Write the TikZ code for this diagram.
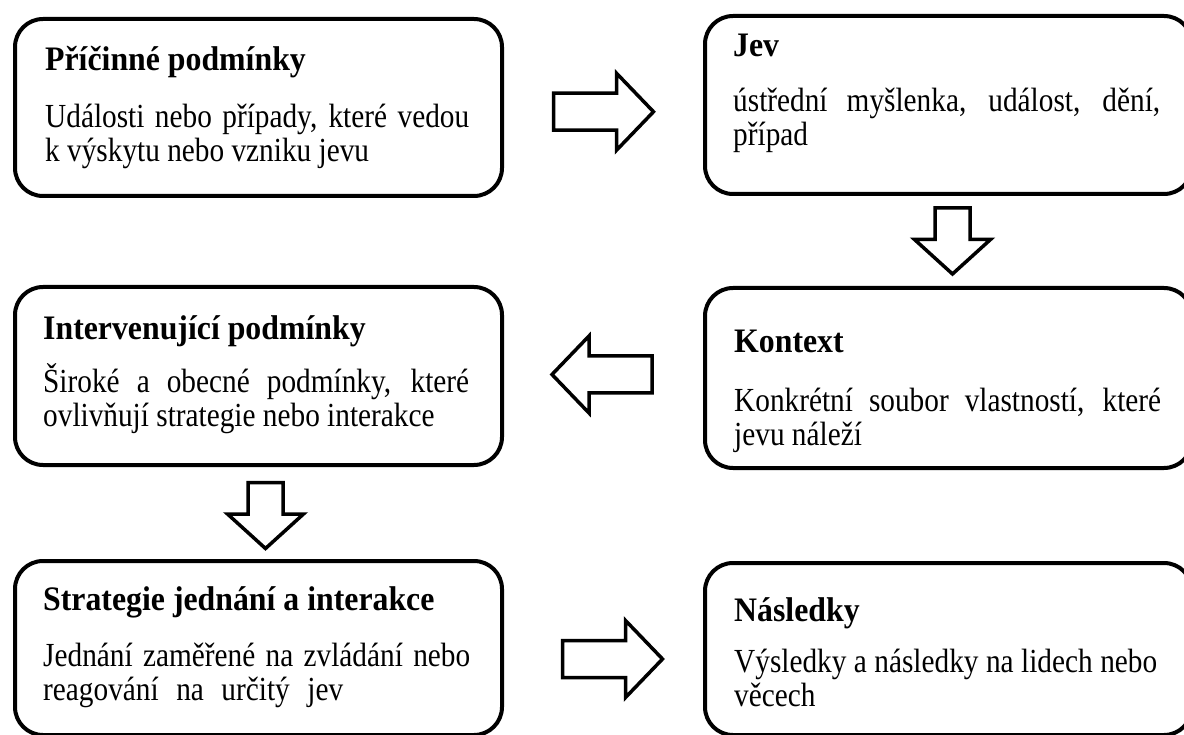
\documentclass[tikz,border=0pt]{standalone}
\usepackage{fontspec}
\usepackage{graphicx}
\setmainfont{Liberation Serif}
\usetikzlibrary{calc}
\newcommand{\vt}[1]{\scalebox{1}[1.08]{#1}}
\newcommand{\vb}[1]{\scalebox{1}[1.15]{#1}}
\tikzset{
  box/.style={draw, line width=4pt, rounded corners=28pt, inner sep=0pt, anchor=north west, minimum width=487pt},
  ttl/.style={anchor=base west, inner sep=0pt, font=\fontsize{31.8}{34}\selectfont\bfseries},
  txt/.style={anchor=base west, inner sep=0pt, font=\fontsize{29.3}{34}\selectfont},
  arrowline/.style={draw, line width=3.5pt, fill=white, line join=miter},
  harrow/.pic={\path[arrowline] (-50,-18.5) -- (13,-18.5) -- (13,-38.5) -- (50,0) -- (13,38.5) -- (13,18.5) -- (-50,18.5) -- cycle;},
  varrow/.pic={\path[arrowline] (-33,-17.5) -- (-1.5,-17.5) -- (-1.5,-38) -- (33,0) -- (-1.5,38) -- (-1.5,17.5) -- (-33,17.5) -- cycle;}
}
\begin{document}
\begin{tikzpicture}[x=1pt,y=1pt]
\useasboundingbox (0,0) rectangle (1184,-735);
% boxes
\node[box, minimum height=177pt] (b1) at (13,-17) {};
\node[box, minimum height=178pt] (b2) at (703,-14) {};
\node[box, minimum height=180pt] (b3) at (703,-286) {};
\node[box, minimum height=178pt] (b4) at (13,-285) {};
\node[box, minimum height=174pt] (b5) at (13,-559) {};
\node[box, minimum height=172pt] (b6) at (703,-561) {};
% texts
\node[ttl] (t1) at ($(b1.north west)+(32,-54)$) {\vt{Příčinné podmínky}};
\node[txt] (t1a) at ($(b1.north west)+(32,-111)$) {\vb{\makebox[424pt][s]{Události nebo případy, které vedou}}};
\node[txt] (t1b) at ($(b1.north west)+(32,-145)$) {\vb{k výskytu nebo vzniku jevu}};

\node[ttl] (t2) at ($(b2.north west)+(30,-43)$) {\vt{Jev}};
\node[txt] (t2a) at ($(b2.north west)+(30,-98)$) {\vb{\makebox[427pt][s]{ústřední myšlenka, událost, dění,}}};
\node[txt] (t2b) at ($(b2.north west)+(30,-132)$) {\vb{případ}};

\node[ttl] (t3) at ($(b3.north west)+(31,-67)$) {\vt{Kontext}};
\node[txt] (t3a) at ($(b3.north west)+(31,-125)$) {\vb{\makebox[427pt][s]{Konkrétní soubor vlastností, které}}};
\node[txt] (t3b) at ($(b3.north west)+(31,-159)$) {\vb{jevu náleží}};

\node[ttl] (t4) at ($(b4.north west)+(30,-55)$) {\vt{Intervenující podmínky}};
\node[txt] (t4a) at ($(b4.north west)+(30,-107)$) {\vb{\makebox[426pt][s]{Široké a obecné podmínky, které}}};
\node[txt] (t4b) at ($(b4.north west)+(30,-141)$) {\vb{ovlivňují strategie nebo interakce}};

\node[ttl] (t5) at ($(b5.north west)+(30,-51)$) {\vt{Strategie jednání a interakce}};
\node[txt] (t5a) at ($(b5.north west)+(30,-107)$) {\vb{\makebox[427pt][s]{Jednání zaměřené na zvládání nebo}}};
\node[txt] (t5b) at ($(b5.north west)+(30,-141)$) {\vb{\makebox[300pt][s]{reagování na určitý jev}}};

\node[ttl] (t6) at ($(b6.north west)+(31,-60)$) {\vt{Následky}};
\node[txt] (t6a) at ($(b6.north west)+(31,-111)$) {\vb{\makebox[423pt][s]{Výsledky a následky na lidech nebo}}};
\node[txt] (t6b) at ($(b6.north west)+(31,-145)$) {\vb{věcech}};
% block arrows
\pic at ($($(b1.east)!0.5!(b2.west)$)+(0,-5.5)$) {harrow};
\pic[rotate=-90] at ($($(b2.south)!0.5!(b3.north)$)+(4,0)$) {varrow};
\pic[rotate=180] at ($($(b3.west)!0.5!(b4.east)$)+(-1.5,2.5)$) {harrow};
\pic[rotate=-90] at ($($(b4.south)!0.5!(b5.north)$)+(7,-2.5)$) {varrow};
\pic at ($($(b5.east)!0.5!(b6.west)$)+(9,-10.5)$) {harrow};
\end{tikzpicture}
\end{document}
